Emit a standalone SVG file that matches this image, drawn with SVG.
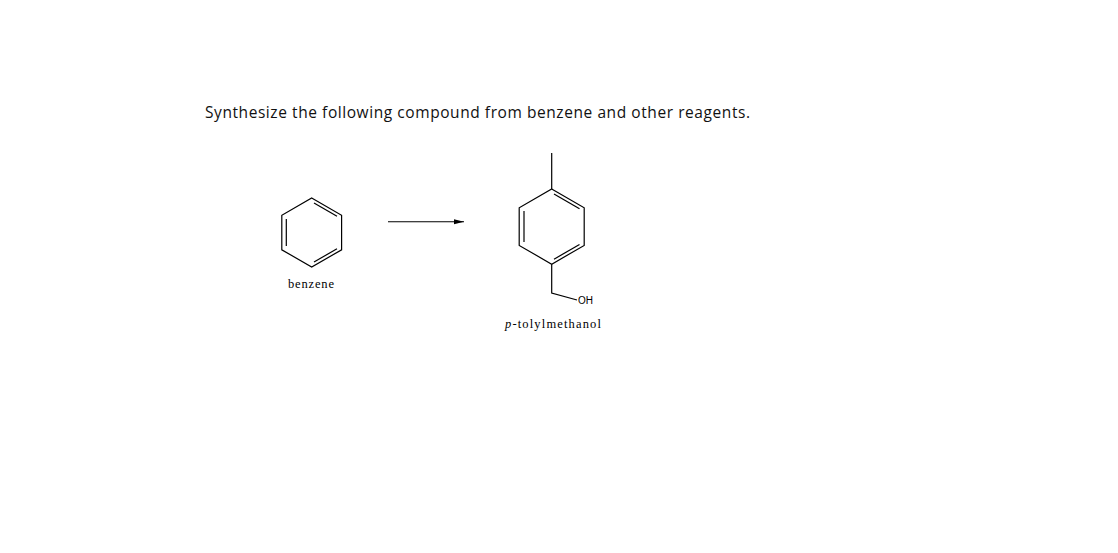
<svg xmlns="http://www.w3.org/2000/svg" width="1118" height="553" viewBox="0 0 1118 553">
<style>
.b{stroke:#000;stroke-width:1.2;fill:none}
.t{font-family:"Liberation Serif",serif;font-size:12.5px;fill:#000}
</style>
<defs><marker id="ah" markerWidth="10" markerHeight="6" refX="10" refY="3" orient="auto" markerUnits="userSpaceOnUse"><path d="M0,0.5L10,3L0,5.5z" fill="#000"/></marker></defs>
<rect width="1118" height="553" fill="#fff"/>
<text x="205" y="118" font-family="Open Sans,sans-serif" font-size="15.5" textLength="545" fill="#111">Synthesize the following compound from benzene and other reagents.</text>
<g id="benzene">
<polygon class="b" points="311.7,198 341.6,215.3 341.6,249.8 311.7,267 281.8,249.8 281.8,215.3"/>
<line class="b" x1="314" y1="203" x2="337" y2="216.3"/>
<line class="b" x1="337" y1="248.8" x2="314" y2="262"/>
<line class="b" x1="286.3" y1="219" x2="286.3" y2="246"/>
<text class="t" x="288" y="288" textLength="46">benzene</text>
</g>
<g id="product">
<polygon class="b" points="551.7,189 584.2,207.8 584.2,245.4 551.7,264.2 519.2,245.4 519.2,207.8"/>
<line class="b" x1="554" y1="194" x2="579.5" y2="208.8"/>
<line class="b" x1="579.5" y1="244.4" x2="554" y2="259.2"/>
<line class="b" x1="524" y1="211" x2="524" y2="242"/>
<line class="b" x1="551.7" y1="189" x2="551.7" y2="153"/>
<polyline class="b" points="551.7,264.2 551.7,293 577,300"/>
<text x="578" y="304" font-family="Liberation Sans,sans-serif" font-size="10">OH</text>
<text class="t" x="505" y="328" textLength="96"><tspan font-style="italic">p</tspan>-tolylmethanol</text>
</g>
<g id="connectors">
<line x1="388" y1="221.7" x2="464" y2="221.7" stroke="#000" stroke-width="1.1" marker-end="url(#ah)"/>
</g>
</svg>
